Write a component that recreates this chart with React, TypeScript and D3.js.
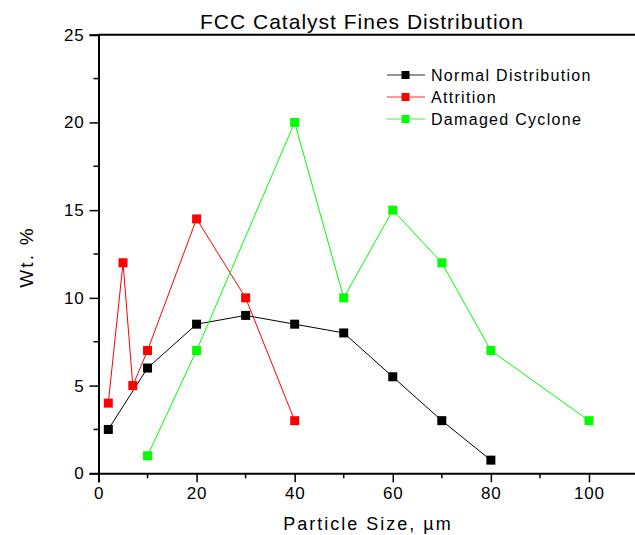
import * as d3 from 'd3';
import React, { useEffect } from 'react';

// Particle sizes (µm) and Wt. % per series
const normalX = [2, 10, 20, 30, 40, 50, 60, 70, 80];
const normalY = [2.5, 6, 8.5, 9, 8.5, 8, 5.5, 3, 0.75];

const attritionX = [2, 5, 7, 10, 20, 30, 40];
const attritionY = [4, 12, 5, 7, 14.5, 10, 3];

const cycloneX = [10, 20, 40, 50, 60, 70, 80, 100];
const cycloneY = [1, 7, 20, 10, 15, 12, 7, 3];

const seriesNames = ['Normal Distribution', 'Attrition', 'Damaged Cyclone'];
const seriesColors = ['#000000', '#ff0000', '#00ff00'];

const xTicks = [0, 20, 40, 60, 80, 100];
const xMinorTicks = [10, 30, 50, 70, 90, 110];
const yTicks = [0, 5, 10, 15, 20, 25];
const yMinorTicks = [2.5, 7.5, 12.5, 17.5, 22.5];

export default function App() {
  const ref = React.useRef<SVGSVGElement>(null);

  useEffect(() => {
    if (!ref.current) return;
    const svg = d3.select(ref.current);
    svg.selectAll('*').remove();

    const font = '"Liberation Sans", Arial, sans-serif';
    const x = d3.scaleLinear().domain([0, 110]).range([98.5, 638]);
    const y = d3.scaleLinear().domain([0, 25]).range([473.3, 34.7]);

    const series = [
      { xs: normalX, ys: normalY },
      { xs: attritionX, ys: attritionY },
      { xs: cycloneX, ys: cycloneY },
    ].map((s, i) => ({
      name: seriesNames[i],
      color: seriesColors[i],
      points: s.xs.map((v, j) => ({ x: v, y: s.ys[j] })),
    }));

    const line = d3
      .line<{ x: number; y: number }>()
      .x(d => x(d.x))
      .y(d => y(d.y));

    series.forEach(s => {
      svg
        .append('path')
        .datum(s.points)
        .attr('fill', 'none')
        .attr('stroke', s.color)
        .attr('stroke-width', 1)
        .attr('d', line);
      svg
        .append('g')
        .selectAll('rect')
        .data(s.points)
        .enter()
        .append('rect')
        .attr('x', d => x(d.x) - 4.5)
        .attr('y', d => y(d.y) - 4.5)
        .attr('width', 9)
        .attr('height', 9)
        .attr('fill', s.color);
    });

    // X axis
    const xAxis = svg
      .append('g')
      .attr('transform', `translate(0,${y(0)})`)
      .call(
        d3
          .axisBottom(x)
          .tickValues(xTicks)
          .tickSize(9)
          .tickPadding(5)
          .tickFormat(d3.format('d'))
      );
    xAxis.select('.domain').attr('stroke-width', 2);
    xAxis.selectAll('.tick line').attr('stroke-width', 1.5);
    xAxis
      .selectAll('.tick text')
      .attr('font-family', font)
      .attr('font-size', 17)
      .attr('letter-spacing', 0.8)
      .attr('fill', '#000');
    svg
      .append('g')
      .selectAll('line')
      .data(xMinorTicks)
      .enter()
      .append('line')
      .attr('x1', d => x(d))
      .attr('x2', d => x(d))
      .attr('y1', y(0))
      .attr('y2', y(0) + 5)
      .attr('stroke', '#000')
      .attr('stroke-width', 1.5);

    // Y axis
    const yAxis = svg
      .append('g')
      .attr('transform', `translate(${x(0)},0)`)
      .call(
        d3
          .axisLeft(y)
          .tickValues(yTicks)
          .tickSize(9)
          .tickPadding(5)
          .tickFormat(d3.format('d'))
      );
    yAxis.select('.domain').attr('stroke-width', 2);
    yAxis.selectAll('.tick line').attr('stroke-width', 1.5);
    yAxis
      .selectAll('.tick text')
      .attr('font-family', font)
      .attr('font-size', 17)
      .attr('letter-spacing', 0.8)
      .attr('fill', '#000');
    svg
      .append('g')
      .selectAll('line')
      .data(yMinorTicks)
      .enter()
      .append('line')
      .attr('x1', x(0) - 5)
      .attr('x2', x(0))
      .attr('y1', d => y(d))
      .attr('y2', d => y(d))
      .attr('stroke', '#000')
      .attr('stroke-width', 1.5);

    // Top frame
    svg
      .append('line')
      .attr('x1', x(0))
      .attr('x2', x(110))
      .attr('y1', y(25))
      .attr('y2', y(25))
      .attr('stroke', '#000')
      .attr('stroke-width', 2);

    // Title and axis labels
    svg
      .append('text')
      .attr('x', 362)
      .attr('y', 29)
      .attr('text-anchor', 'middle')
      .attr('font-family', font)
      .attr('font-size', 21)
      .attr('letter-spacing', 1)
      .text('FCC Catalyst Fines Distribution');
    svg
      .append('text')
      .attr('x', 368)
      .attr('y', 530)
      .attr('text-anchor', 'middle')
      .attr('font-family', font)
      .attr('font-size', 18)
      .attr('letter-spacing', 2)
      .text('Particle Size, µm');
    svg
      .append('text')
      .attr('transform', `translate(33,257) rotate(-90)`)
      .attr('text-anchor', 'middle')
      .attr('font-family', font)
      .attr('font-size', 19)
      .attr('letter-spacing', 2.2)
      .text('Wt. %');

    // Legend
    const legend = svg
      .selectAll('.legend')
      .data(series)
      .enter()
      .append('g')
      .attr('class', 'legend')
      .attr('transform', (d, i) => `translate(0,${75 + i * 22})`);
    legend
      .append('line')
      .attr('x1', 387)
      .attr('x2', 425)
      .attr('stroke', d => d.color)
      .attr('stroke-opacity', 0.55)
      .attr('stroke-width', 1.5);
    legend
      .append('rect')
      .attr('x', 401.5)
      .attr('y', -4)
      .attr('width', 8)
      .attr('height', 8)
      .attr('fill', d => d.color);
    legend
      .append('text')
      .attr('x', 431)
      .attr('dy', '0.35em')
      .attr('font-family', font)
      .attr('font-size', 16)
      .attr('letter-spacing', 1.3)
      .text(d => d.name);
  }, []);

  return (
    <svg
      ref={ref}
      width={635}
      height={535}
      style={{ position: 'absolute', left: 0, top: 0, background: '#fff' }}
    />
  );
}
